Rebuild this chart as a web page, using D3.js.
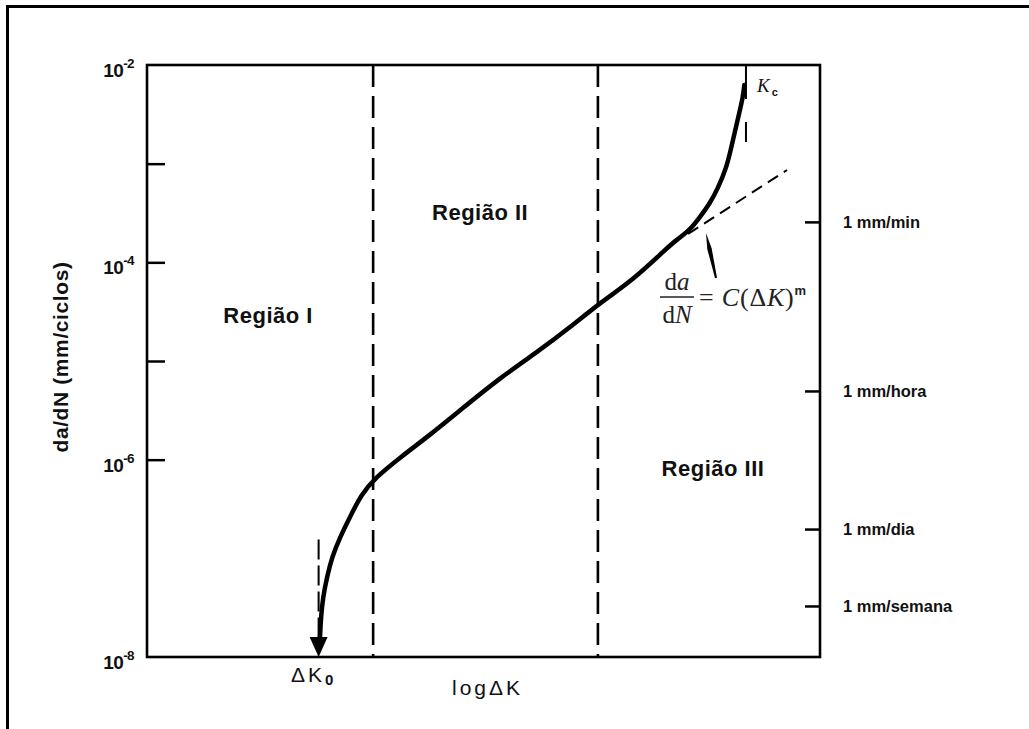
<!DOCTYPE html>
<html><head><meta charset="utf-8">
<script src="https://cdn.jsdelivr.net/npm/d3@7"></script>
<style>body{margin:0;background:#fff} svg{display:block}</style>
</head><body><svg id="c" width="1029" height="729"></svg>
<script>
// ---- data (arbitrary log ΔK units on x, da/dN in mm/ciclo on y) ----
const curveLogDK = [2.571, 2.585, 2.615, 2.675, 2.749, 2.868, 3.016, 3.180, 3.388, 3.759, 4.205, 4.651, 5.245, 5.840, 6.285, 6.731, 7.221, 7.727, 7.875, 8.068, 8.217, 8.366, 8.470, 8.618, 8.707, 8.782, 8.856, 8.875];
const curveDadN  = [1.60e-8, 2.54e-8, 4.05e-8, 6.47e-8, 1.03e-7, 1.64e-7, 2.62e-7, 4.39e-7, 6.52e-7, 1.05e-6, 1.78e-6, 3.16e-6, 6.76e-6, 1.29e-5, 2.19e-5, 3.89e-5, 6.61e-5, 1.40e-4, 1.70e-4, 2.13e-4, 2.88e-4, 3.99e-4, 5.41e-4, 9.25e-4, 1.74e-3, 2.90e-3, 4.73e-3, 6.27e-3];
const regionBounds = [3.36, 6.70];
const parisLogDK = [8.04, 9.51];
const parisDadN  = [1.94e-4, 8.63e-4];
const dK0 = 2.55;
const dK0DashTop = 1.55e-7;
const Kc = 8.90;
const KcDashBottom = 1.66e-3;
const leftLabelValues = [1e-2, 1e-4, 1e-6, 1e-8];
const leftLabelExps = ["-2", "-4", "-6", "-8"];
const leftTickValues = [1e-3, 1e-4, 1e-5, 1e-6];
const rightTickValues = [2.57e-4, 4.97e-6, 1.98e-7, 3.29e-8];
const rightTickLabels = ["1 mm/min", "1 mm/hora", "1 mm/dia", "1 mm/semana"];
const regionLabels = ["Região I", "Região II", "Região III"];
const regionLabelPos = [[1.80, 2.43e-5], [4.95, 2.69e-4], [8.41, 6.82e-7]];
const formulaArrow = {from: [8.455, 6.93e-5], to: [8.306, 1.98e-4]};

// ---- layout ----
const L = 147, R = 820, T = 65, B = 657;
const svg = d3.select("#c");
const x = d3.scaleLinear().domain([0, 10]).range([L, R]);
const y = d3.scaleLog().domain([1e-8, 1e-2]).range([B, T]);
const sans = "'Liberation Sans', Arial, sans-serif";
const serif = "'Liberation Serif', 'Times New Roman', serif";

// outer frame
svg.append("rect").attr("x", 7.5).attr("y", 6.5).attr("width", 1040).attr("height", 740)
  .attr("fill", "none").attr("stroke", "#000").attr("stroke-width", 3);

// plot frame
svg.append("rect").attr("x", L).attr("y", T).attr("width", R - L).attr("height", B - T)
  .attr("fill", "none").attr("stroke", "#000").attr("stroke-width", 2.6);

// left axis ticks (inward)
const la = svg.append("g").attr("transform", `translate(${L},0)`)
  .call(d3.axisLeft(y).tickValues(leftTickValues).tickSize(-18).tickFormat(""));
la.select(".domain").remove();
la.selectAll("line").attr("stroke", "#000").attr("stroke-width", 2.5);

// left labels 10^n
const ll = svg.append("g");
leftLabelValues.forEach((v, i) => {
  const t = ll.append("text").attr("x", L - 13).attr("y", y(v) + 12)
    .attr("text-anchor", "end").attr("font-family", sans).attr("font-weight", "bold")
    .attr("font-size", 19).attr("letter-spacing", -0.6).attr("fill", "#111");
  t.append("tspan").text("10");
  t.append("tspan").attr("dy", -9).attr("font-size", 13.5).text(leftLabelExps[i]);
});

// right axis ticks (inward)
const ra = svg.append("g").attr("transform", `translate(${R},0)`)
  .call(d3.axisRight(y).tickValues(rightTickValues).tickSize(-15).tickFormat(""));
ra.select(".domain").remove();
ra.selectAll("line").attr("stroke", "#000").attr("stroke-width", 2.5);
rightTickValues.forEach((v, i) => {
  svg.append("text").attr("x", R + 23).attr("y", y(v) + 6)
    .attr("font-family", sans).attr("font-weight", "bold").attr("font-size", 16.5)
    .attr("fill", "#111").text(rightTickLabels[i]);
});

// y title
svg.append("text").attr("transform", "translate(68,357) rotate(-90)")
  .attr("text-anchor", "middle").attr("font-family", sans).attr("font-weight", "bold")
  .attr("font-size", 21).attr("letter-spacing", 0.6).attr("fill", "#111")
  .text("da/dN (mm/ciclos)");

// region boundaries
regionBounds.forEach(b => {
  svg.append("line").attr("x1", x(b)).attr("x2", x(b)).attr("y1", T).attr("y2", B)
    .attr("stroke", "#000").attr("stroke-width", 2.6).attr("stroke-dasharray", "22,9");
});

// Paris-law tangent dashed
svg.append("line").attr("x1", x(parisLogDK[0])).attr("y1", y(parisDadN[0]))
  .attr("x2", x(parisLogDK[1])).attr("y2", y(parisDadN[1]))
  .attr("stroke", "#000").attr("stroke-width", 2).attr("stroke-dasharray", "12,7");

// ΔK0 dashed guide
svg.append("line").attr("x1", x(dK0)).attr("x2", x(dK0)).attr("y1", y(dK0DashTop)).attr("y2", y(1e-8) - 18)
  .attr("stroke", "#000").attr("stroke-width", 2).attr("stroke-dasharray", "20,6");

// Kc guide
svg.append("line").attr("x1", x(Kc)).attr("x2", x(Kc)).attr("y1", T).attr("y2", y(KcDashBottom))
  .attr("stroke", "#000").attr("stroke-width", 2).attr("stroke-dasharray", "34,23,20,100");

// main curve
const pts = curveLogDK.map((d, i) => [d, curveDadN[i]]);
const line = d3.line().x(d => x(d[0])).y(d => y(d[1])).curve(d3.curveBasis);
svg.append("path").attr("d", line(pts)).attr("fill", "none").attr("stroke", "#000")
  .attr("stroke-width", 4.5).attr("stroke-linecap", "round");

// ΔK0 arrowhead
const ax = x(dK0), ay = y(1e-8);
svg.append("path").attr("d", `M${ax},${ay} L${ax - 9},${ay - 20} L${ax + 9},${ay - 20} Z`).attr("fill", "#000");

// formula arrow
{
  const x0 = x(formulaArrow.from[0]), y0 = y(formulaArrow.from[1]);
  const x1 = x(formulaArrow.to[0]), y1 = y(formulaArrow.to[1]);
  const dx = x1 - x0, dy = y1 - y0, len = Math.hypot(dx, dy), ux = dx / len, uy = dy / len;
  const px = -uy, py = ux;
  const bx = x1 - ux * 16, by = y1 - uy * 16;
  svg.append("path").attr("d",
    `M${x0 + px * 1},${y0 + py * 1} L${bx + px * 2.2},${by + py * 2.2} L${x1},${y1} L${bx - px * 2.2},${by - py * 2.2} L${x0 - px * 1},${y0 - py * 1} Z`)
    .attr("fill", "#000");
}

// region labels
regionLabels.forEach((t, i) => {
  svg.append("text").attr("x", x(regionLabelPos[i][0])).attr("y", y(regionLabelPos[i][1]))
    .attr("text-anchor", "middle").attr("font-family", sans).attr("font-weight", "bold")
    .attr("font-size", 22).attr("letter-spacing", 0.5).attr("fill", "#111").text(t);
});

// ΔK0 label
{
  const t = svg.append("text").attr("x", 291).attr("y", 682).attr("font-family", sans)
    .attr("font-size", 21).attr("letter-spacing", 3).attr("fill", "#111");
  t.append("tspan").text("ΔK");
  t.append("tspan").attr("dy", 3).attr("font-size", 15).attr("font-weight", "bold").text("0");
}
// x title
svg.append("text").attr("x", 452).attr("y", 695).attr("font-family", sans)
  .attr("font-size", 21).attr("letter-spacing", 3).attr("fill", "#111").text("logΔK");

// Kc label
{
  const t = svg.append("text").attr("x", 757).attr("y", 92).attr("font-family", serif)
    .attr("font-style", "italic").attr("font-size", 19).attr("fill", "#111");
  t.append("tspan").text("K");
  t.append("tspan").attr("dx", 2).attr("dy", 4).attr("font-family", sans).attr("font-style", "normal")
    .attr("font-weight", "bold").attr("font-size", 11).text("c");
}

// formula
{
  const f = svg.append("g").attr("font-family", serif).attr("font-size", 25).attr("fill", "#222");
  const num = f.append("text").attr("x", 677).attr("y", 290).attr("text-anchor", "middle");
  num.append("tspan").text("d");
  num.append("tspan").attr("font-style", "italic").text("a");
  f.append("line").attr("x1", 660).attr("x2", 694).attr("y1", 297).attr("y2", 297)
    .attr("stroke", "#222").attr("stroke-width", 1.5);
  const den = f.append("text").attr("x", 677).attr("y", 323).attr("text-anchor", "middle");
  den.append("tspan").text("d");
  den.append("tspan").attr("font-style", "italic").text("N");
  const rhs = f.append("text").attr("x", 699).attr("y", 306).attr("font-size", 26).attr("letter-spacing", 0.8);
  rhs.append("tspan").text("= ");
  rhs.append("tspan").attr("font-style", "italic").text("C");
  rhs.append("tspan").text("(Δ");
  rhs.append("tspan").attr("font-style", "italic").text("K");
  rhs.append("tspan").text(")");
  rhs.append("tspan").attr("dy", -11).attr("font-size", 13).attr("font-family", sans)
    .attr("font-weight", "bold").text("m");
}
</script></body></html>
